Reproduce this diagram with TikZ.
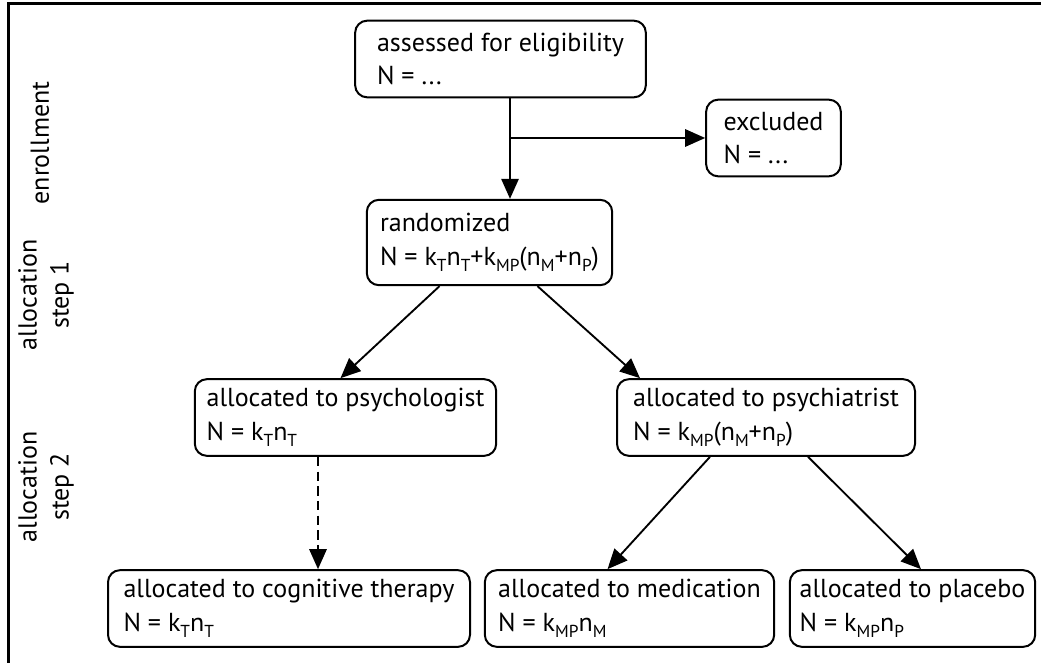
\documentclass[tikz,border=0pt]{standalone}
\usepackage{fontspec}
\setmainfont{PT Sans}
\usetikzlibrary{arrows.meta}
\newcommand{\idx}[1]{\raisebox{-0.5ex}{\fontsize{13}{13}\selectfont #1}}

\begin{document}
\begin{tikzpicture}[
    x=0.75pt, y=-0.75pt,
    box/.style={draw, line width=1.5pt, rounded corners=9pt, align=left,
        minimum height=57.5pt, inner sep=4pt,
        font=\fontsize{19.5}{25}\selectfont},
    arrow/.style={-{Triangle[length=15pt,width=13pt]}, line width=1.4pt},
    phase/.style={rotate=90, align=center,
        font=\fontsize{19.5}{24}\selectfont}
]
    \useasboundingbox (0,0) rectangle (1041,663);
    % frame
    \draw[line width=2.2pt] (8.5,663) -- (8.5,3.5) -- (1041,3.5);

    % phases
    \node[phase] (enrol) at (40,143) {enrollment};
    \node[phase] (step1) at (46,295) {allocation\\step 1};
    \node[phase] (step2) at (46,487) {allocation\\step 2};

    % boxes
    \node[box, minimum width=218pt] (assess) at (500.5,59)
        {assessed for eligibility\\N = ...};
    \node[box, minimum width=101pt] (excl) at (773.5,138)
        {excluded\\N = ...};
    \node[box, minimum width=184pt, minimum height=64pt] (rand) at (489.5,242.5)
        {randomized\\N = k\idx{T}n\idx{T}+k\idx{MP}(n\idx{M}+n\idx{P})};
    \node[box, minimum width=226pt] (psychol) at (345.5,417.5)
        {allocated to psychologist\\N = k\idx{T}n\idx{T}};
    \node[box, minimum width=223.5pt] (psychia) at (766,417.5)
        {allocated to psychiatrist\\N = k\idx{MP}(n\idx{M}+n\idx{P})};
    \node[box, minimum width=271.5pt] (cogn) at (289,608.5)
        {allocated to cognitive therapy\\N = k\idx{T}n\idx{T}};
    \node[box, minimum width=217pt] (medic) at (629.5,608.5)
        {allocated to medication\\N = k\idx{MP}n\idx{M}};
    \node[box, minimum width=184pt] (placebo) at (912.5,608.5)
        {allocated to placebo\\N = k\idx{MP}n\idx{P}};

    \coordinate (split) at (510,138);
    \coordinate (cbt) at (318,0);

    % connectors
    \draw[arrow] (assess.south -| split) -- (rand.north -| split);
    \draw[arrow] (split) -- (excl.west);
    \draw[arrow] ([xshift=-50*0.75pt]rand.south) -- ([xshift=-5*0.75pt]psychol.north);
    \draw[arrow] ([xshift=48*0.75pt]rand.south) -- ([xshift=-126*0.75pt]psychia.north);
    \draw[arrow, dash pattern=on 7pt off 4pt] (psychol.south -| cbt) -- (cogn.north -| cbt);
    \draw[arrow] ([xshift=-56*0.75pt]psychia.south) -- ([xshift=-22*0.75pt]medic.north);
    \draw[arrow] ([xshift=42*0.75pt]psychia.south) -- ([xshift=8.5*0.75pt]placebo.north);
\end{tikzpicture}
\end{document}
